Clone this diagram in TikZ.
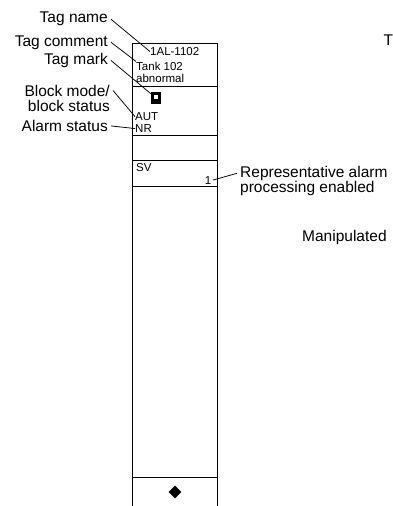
\documentclass[tikz,border=0pt]{standalone}
\usepackage{fontspec}
\setmainfont{Liberation Sans}
\usetikzlibrary{shapes.geometric, positioning}

\begin{document}
\begin{tikzpicture}[
    x=1pt, y=-1pt,
    callout/.style={font=\fontsize{15.5}{14.8}\selectfont, inner xsep=3pt, inner ysep=0pt},
    field/.style={font=\fontsize{11.5}{13}\selectfont, inner sep=0pt},
    leader/.style={line width=0.75pt},
    faceplate/.style={line width=1pt},
    tagmk/.style={fill=black, minimum width=10pt, minimum height=12pt, inner sep=0pt},
    opmark/.style={diamond, fill=black, minimum size=13pt, inner sep=0pt}
  ]
    \useasboundingbox (0,0) rectangle (393,506);
    \clip (0,0) rectangle (393,506);

    % faceplate
    \draw[faceplate] (132,512) -- (132,43) -- (217,43) -- (217,512);
    \foreach \y in {86,135,160,186,477}
      \draw[faceplate] (132,\y) -- (217,\y);

    % fields on the faceplate
    \node[field, anchor=base west] (tagno) at (150,55.5) {1AL-1102};
    \node[field, anchor=base west] (comment) at (136,70) {Tank 102};
    \node[field, anchor=base west] (comment2) at (136,82) {abnormal};
    \node[tagmk] (tagmark) at (156,98) {};
    \fill[white] (153.5,94.5) rectangle (157.5,98.5);
    \node[field, anchor=base west] (aut) at (135,120.5) {AUT};
    \node[field, anchor=base west] (nr) at (135,132.5) {NR};
    \node[field, anchor=base west] (sv) at (136,171) {SV};
    \node[field, anchor=base east] (one) at (211.5,184) {1};
    \node[opmark] (opmk) at (175,492) {};

    % callouts
    \node[callout, anchor=base east] (tagname) at (111,23) {Tag name};
    \node[callout, anchor=base east] (tagcomment) at (111,46) {Tag comment};
    \node[callout, anchor=base east] (tagmarklbl) at (111,64.5) {Tag mark};
    \node[callout, anchor=north east, align=right] (blockmode) at (113,85.5) {Block mode/\\block status};
    \node[callout, anchor=base east] (alarm) at (111,131.5) {Alarm status};
    \node[callout, anchor=north west, align=left] (repalarm) at (237,165.8) {Representative alarm\\processing enabled};
    \node[callout, anchor=base west] (manip) at (299,241.5) {Manipulated};
    \node[callout, inner xsep=0pt, anchor=base west] (ttop) at (383.3,45) {T};

    % leaders
    \draw[leader] (tagname.east) -- (tagno.west);
    \draw[leader] (tagcomment.east) -- (comment.north west);
    \draw[leader] (tagmarklbl.east) -- (tagmark);
    \draw[leader] ([yshift=-5pt]blockmode.north east) -- (aut.west);
    \draw[leader] (alarm.east) -- (nr.west);
    \draw[leader] ([yshift=-7.5pt]repalarm.north west) -- ([xshift=1.5pt]one.east);
  \end{tikzpicture}
\end{document}
